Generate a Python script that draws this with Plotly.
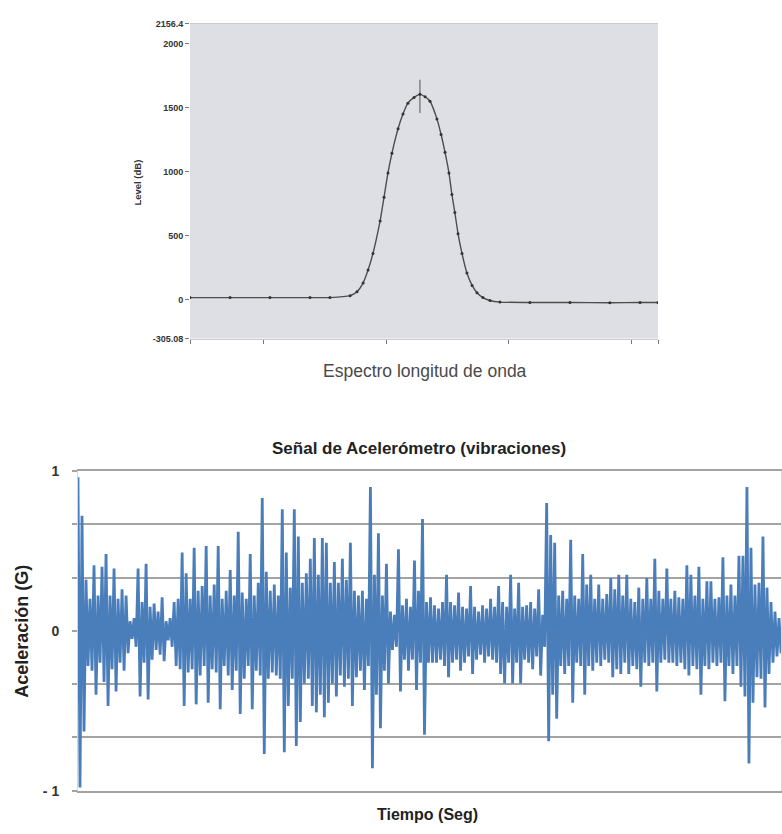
import plotly.graph_objects as go

# ---------------- Top chart: wavelength spectrum ----------------
wavelength_nm = [1537.03, 1538.66, 1540.28, 1541.91, 1542.72, 1543.54, 1543.82, 1544.07,
                 1544.27, 1544.47, 1544.76, 1544.92, 1545.08, 1545.24, 1545.49, 1545.69,
                 1545.89, 1546.14, 1546.38, 1546.59, 1546.79, 1547.07, 1547.24, 1547.40,
                 1547.56, 1547.68, 1547.80, 1547.93, 1548.09, 1548.29, 1548.50, 1548.70,
                 1548.94, 1549.23, 1549.63, 1550.85, 1552.48, 1554.10, 1555.33, 1556.06]
level = [15, 15, 15, 15, 15, 30, 60, 130,
         230, 360, 614, 800, 990, 1143, 1335, 1450,
         1535, 1580, 1604, 1585, 1550, 1412, 1290, 1151,
         990, 821, 680, 514, 360, 207, 110, 53,
         15, -8, -20, -23, -23, -25, -23, -23]
peak_err_plus = [0] * 18 + [115] + [0] * 21
peak_err_minus = [0] * 18 + [146] + [0] * 21

level_ticks = [-305.08, 0, 500, 1000, 1500, 2000, 2156.4]
level_tick_text = ["-305.08", "0", "500", "1000", "1500", "2000", "2156.4"]
wl_ticks = [1537.03, 1540, 1545, 1550, 1555, 1556.06]

# ---------------- Bottom chart: accelerometer signal ----------------
# per-bin envelope (positive excursion, negative excursion)
upper = [0.96, 0.72, 0.32, 0.20, 0.41, 0.22, 0.40, 0.48, 0.22, 0.39,
         0.20, 0.26, 0.22, 0.06, 0.08, 0.39, 0.18, 0.42, 0.15, 0.17,
         0.12, 0.21, 0.06, 0.08, 0.18, 0.20, 0.49, 0.36, 0.20, 0.52,
         0.25, 0.28, 0.53, 0.22, 0.29, 0.53, 0.20, 0.25, 0.38, 0.22,
         0.62, 0.24, 0.20, 0.48, 0.22, 0.30, 0.83, 0.37, 0.25, 0.29,
         0.22, 0.76, 0.49, 0.27, 0.76, 0.59, 0.30, 0.36, 0.45, 0.58,
         0.35, 0.58, 0.55, 0.30, 0.43, 0.30, 0.45, 0.32, 0.55, 0.25,
         0.22, 0.25, 0.20, 0.90, 0.35, 0.61, 0.22, 0.42, 0.12, 0.10,
         0.51, 0.16, 0.20, 0.15, 0.44, 0.25, 0.70, 0.18, 0.21, 0.16,
         0.14, 0.18, 0.35, 0.18, 0.16, 0.24, 0.15, 0.14, 0.28, 0.15,
         0.12, 0.16, 0.14, 0.20, 0.15, 0.28, 0.18, 0.15, 0.35, 0.14,
         0.30, 0.15, 0.16, 0.18, 0.14, 0.26, 0.10, 0.80, 0.60, 0.55,
         0.22, 0.25, 0.20, 0.57, 0.22, 0.20, 0.48, 0.29, 0.35, 0.20,
         0.29, 0.20, 0.23, 0.33, 0.26, 0.35, 0.22, 0.35, 0.20, 0.18,
         0.27, 0.20, 0.33, 0.20, 0.45, 0.25, 0.20, 0.39, 0.20, 0.25,
         0.21, 0.20, 0.41, 0.35, 0.22, 0.40, 0.20, 0.31, 0.31, 0.20,
         0.21, 0.46, 0.22, 0.29, 0.22, 0.47, 0.47, 0.90, 0.52, 0.29,
         0.30, 0.59, 0.27, 0.18, 0.12, 0.08]
lower = [-0.98, -0.63, -0.22, -0.25, -0.40, -0.20, -0.32, -0.47, -0.24, -0.38,
         -0.20, -0.25, -0.14, -0.05, -0.10, -0.41, -0.20, -0.43, -0.18, -0.12,
         -0.15, -0.19, -0.06, -0.10, -0.22, -0.24, -0.47, -0.26, -0.24, -0.46,
         -0.28, -0.22, -0.45, -0.24, -0.26, -0.49, -0.22, -0.28, -0.37, -0.25,
         -0.52, -0.30, -0.22, -0.49, -0.25, -0.28, -0.77, -0.30, -0.26, -0.28,
         -0.30, -0.76, -0.47, -0.30, -0.72, -0.57, -0.33, -0.30, -0.47, -0.51,
         -0.40, -0.54, -0.45, -0.33, -0.41, -0.28, -0.35, -0.30, -0.47, -0.29,
         -0.25, -0.37, -0.22, -0.86, -0.40, -0.61, -0.25, -0.33, -0.12, -0.10,
         -0.38, -0.18, -0.25, -0.18, -0.37, -0.20, -0.65, -0.20, -0.20, -0.20,
         -0.18, -0.22, -0.29, -0.20, -0.18, -0.25, -0.20, -0.16, -0.27, -0.18,
         -0.15, -0.20, -0.16, -0.18, -0.20, -0.27, -0.33, -0.20, -0.33, -0.20,
         -0.33, -0.18, -0.20, -0.24, -0.16, -0.28, -0.10, -0.69, -0.40, -0.55,
         -0.22, -0.27, -0.22, -0.45, -0.20, -0.22, -0.40, -0.22, -0.25, -0.20,
         -0.22, -0.18, -0.20, -0.29, -0.24, -0.27, -0.20, -0.27, -0.22, -0.24,
         -0.35, -0.20, -0.22, -0.20, -0.38, -0.20, -0.18, -0.20, -0.20, -0.22,
         -0.20, -0.24, -0.28, -0.22, -0.24, -0.40, -0.22, -0.24, -0.20, -0.22,
         -0.20, -0.44, -0.22, -0.27, -0.22, -0.35, -0.41, -0.83, -0.45, -0.29,
         -0.30, -0.48, -0.27, -0.20, -0.16, -0.14]
assert len(upper) == len(lower)

accel_ticks = [-1, -2 / 3, -1 / 3, 0, 1 / 3, 2 / 3, 1]
accel_tick_text = ["- 1", "", "", "0", "", "", "1"]

# interleave envelope into a sample sequence
accel = []
for u, l in zip(upper, lower):
    accel.append(u)
    accel.append(l)
sample = list(range(len(accel)))

W, H = 782, 834


def fx(px):
    return px / W


def fy(py):
    return 1 - py / H


FONT = "Liberation Sans, Arial, sans-serif"

fig = go.Figure()

fig.add_trace(go.Scatter(
    x=wavelength_nm, y=level, mode="lines+markers",
    line=dict(color="#4d4d4d", width=1.4, shape="spline", smoothing=0.6),
    marker=dict(size=3, color="#333333"),
    error_y=dict(type="data", symmetric=False, array=peak_err_plus,
                 arrayminus=peak_err_minus, color="#555555", thickness=1, width=0),
    xaxis="x", yaxis="y", showlegend=False, hoverinfo="x+y"))

fig.add_trace(go.Scatter(
    x=sample, y=accel, mode="lines",
    line=dict(color="#4a7ebb", width=2.8, simplify=False),
    xaxis="x2", yaxis="y2", showlegend=False))

fig.update_layout(
    width=W, height=H, autosize=False,
    margin=dict(l=0, r=0, t=0, b=0, pad=0),
    paper_bgcolor="white", plot_bgcolor="rgba(0,0,0,0)",
    font=dict(family=FONT, color="#333333"),
    xaxis=dict(domain=[fx(190), fx(658)], anchor="y",
               range=[wavelength_nm[0], wavelength_nm[-1]],
               tickvals=wl_ticks, showticklabels=False,
               ticks="outside", ticklen=4, tickcolor="#777777",
               showgrid=False, zeroline=False,
               showline=True, mirror=True, linecolor="#c9c9cf", linewidth=1),
    yaxis=dict(domain=[fy(337), fy(16)], anchor="x",
               range=[level_ticks[0], level_ticks[-1]],
               tickvals=level_ticks, ticktext=level_tick_text,
               ticks="outside", ticklen=4, tickcolor="#777777",
               tickfont=dict(size=9, color="#333333", weight="bold"),
               showgrid=False, zeroline=False, showline=False),
    xaxis2=dict(domain=[fx(78), fx(781)], anchor="y2",
                range=[sample[0], sample[-1]],
                showticklabels=False, ticks="",
                showgrid=False, zeroline=False,
                showline=True, mirror=True, linecolor="#a3a3a3", linewidth=1.5),
    yaxis2=dict(domain=[fy(798), fy(472)], anchor="x2",
                range=[-1, 1],
                tickvals=accel_ticks, ticktext=accel_tick_text,
                ticks="outside", ticklen=5, tickcolor="#a3a3a3", tickwidth=1.5,
                ticklabelstandoff=10,
                tickfont=dict(size=14, color="#333333", weight="bold"),
                showgrid=True, gridcolor="#a3a3a3", gridwidth=1.5,
                zeroline=False,
                showline=True, mirror=True, linecolor="#d6d6d6", linewidth=1),
    shapes=[dict(type="rect", xref="x domain", yref="y domain",
                 x0=0, x1=1, y0=0, y1=1, layer="below",
                 fillcolor="#dedee5", line=dict(width=0))],
    annotations=[
        dict(text="Espectro longitud de onda", xref="paper", yref="paper",
             x=fx(425), y=fy(370), xanchor="center", yanchor="middle",
             showarrow=False, font=dict(size=17.5, color="#4a4a4a")),
        dict(text="Level (dB)", xref="paper", yref="paper",
             x=fx(138), y=fy(178), xanchor="center", yanchor="middle",
             textangle=-90, showarrow=False,
             font=dict(size=9.5, color="#333333", weight="bold")),
        dict(text="Señal de Acelerómetro (vibraciones)", xref="paper", yref="paper",
             x=fx(419), y=fy(449), xanchor="center", yanchor="middle",
             showarrow=False, font=dict(size=17, color="#222222", weight="bold")),
        dict(text="Aceleración (G)", xref="paper", yref="paper",
             x=fx(22), y=fy(636), xanchor="center", yanchor="middle",
             textangle=-90, showarrow=False,
             font=dict(size=18, color="#222222", weight="bold")),
        dict(text="Tiempo (Seg)", xref="paper", yref="paper",
             x=fx(427), y=fy(822), xanchor="center", yanchor="middle",
             showarrow=False, font=dict(size=16, color="#222222", weight="bold")),
    ],
)

fig.write_html(
    "out.html",
    config={"displayModeBar": False},
    post_script="document.body.style.margin='0';document.body.style.padding='0';"
                "document.documentElement.style.overflow='hidden';",
)
